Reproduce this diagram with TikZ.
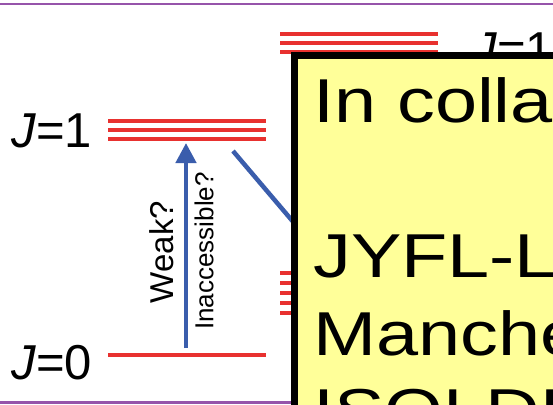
\documentclass[tikz,border=0pt]{standalone}
\usepackage{fontspec}
\setmainfont{Liberation Sans}
\newfontfamily\boxfont[FakeStretch=1.22]{Liberation Sans}
\usetikzlibrary{arrows.meta,positioning}
\definecolor{lvlred}{RGB}{232,49,47}
\definecolor{trblue}{RGB}{58,93,172}
\definecolor{boxyel}{RGB}{255,255,153}
\definecolor{rulepurp}{RGB}{150,84,170}
\tikzset{
  lvl/.style    = {draw=lvlred, line width=4pt},
  trn/.style    = {draw=trblue, line width=4.5pt},
  jlbl/.style   = {inner sep=0pt, anchor=base west, font=\fontsize{49}{49}\selectfont},
  qlbl/.style   = {inner sep=0pt, rotate=90},
  rul/.style    = {draw=rulepurp, line width=2.5pt},
  boxtxt/.style = {inner sep=0pt, anchor=base west, font=\boxfont\fontsize{62}{77}\selectfont},
}
\begin{document}
\begin{tikzpicture}[x=1pt, y=-1pt, >={Triangle[width=20pt,length=20pt]}]
  \useasboundingbox (0,0) rectangle (553,404);
  \clip (0,0) rectangle (553,404);
  \fill[white] (0,0) rectangle (553,404);
  % slide rules
  \draw[rul] (0,4) -- (553,4);
  \draw[rul] (0,402.5) -- (300,402.5);
  % levels, left
  \node[jlbl] (jone) at (11,147) {\textit{J}=1};
  \node[jlbl] (jzero) at (11,379) {\textit{J}=0};
  \foreach \y in {121,130,139} \draw[lvl] (108,\y) -- (266,\y);
  \draw[lvl] (108,355) -- (266,355);
  % levels, right
  \foreach \y in {34,43,52} \draw[lvl] (280,\y) -- (438,\y);
  \foreach \y in {273,283,293,303,313} \draw[lvl] (280,\y) -- (330,\y);
  \node[jlbl] (jonr) at (472,66) {\textit{J}=1};
  % transitions
  \coordinate (gs) at (186,348);
  \coordinate (ex) at (186,143);
  \draw[trn,->] (gs) -- (ex);
  \node[qlbl, font=\fontsize{33}{33}\selectfont] (weak) at (162,252) {Weak?};
  \node[qlbl, font=\fontsize{26}{26}\selectfont] (inacc) at (204,251) {Inaccessible?};
  \coordinate (dtop) at (233,151);
  \coordinate (dend) at (340,277);
  \draw[trn] (dtop) -- (dend);
  % collaboration box
  \node[draw=black, line width=7pt, fill=boxyel, anchor=north west,
        minimum width=400pt, minimum height=420pt, inner sep=0pt] (collab) at (290.5,51.5) {};
  \node[boxtxt] (ln1) at (313,122) {In collaboration with};
  \node[boxtxt] (ln2) at (313,277) {JYFL-L};
  \node[boxtxt] (ln3) at (313,355) {Manchester};
  \node[boxtxt] (ln4) at (313,432) {ISOLDE};
\end{tikzpicture}
\end{document}
